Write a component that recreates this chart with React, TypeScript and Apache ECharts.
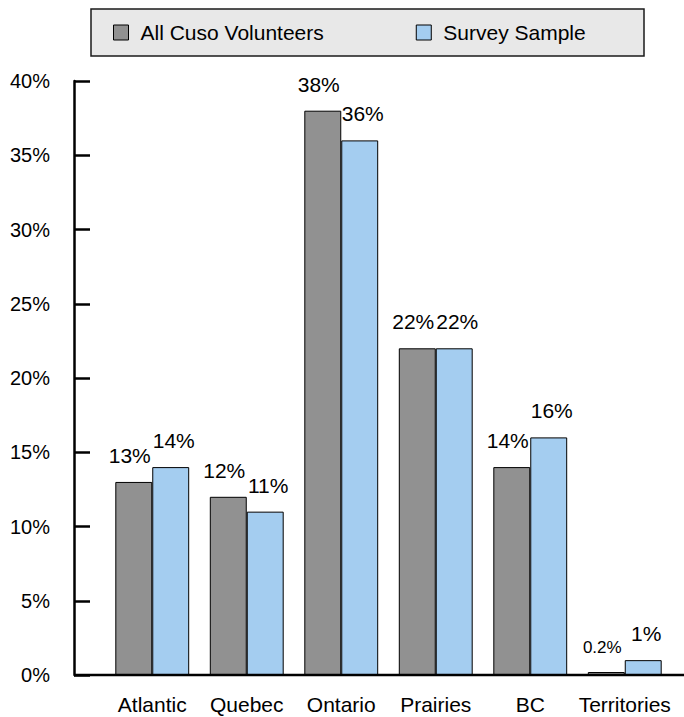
import React, { useEffect, useRef } from "react";
import * as echarts from "echarts";

const categories = ["Atlantic", "Quebec", "Ontario", "Prairies", "BC", "Territories"];
const seriesNames = ["All Cuso Volunteers", "Survey Sample"];
const allCuso = [13, 12, 38, 22, 14, 0.2];
const survey = [14, 11, 36, 22, 16, 1];
const yMin = 0;
const yMax = 40;
const yInterval = 5;

const FONT = "'Liberation Sans', Arial, sans-serif";

function toData(values: number[]) {
  return values.map((v) =>
    v < 1 ? { value: v, label: { fontSize: 17 } } : { value: v }
  );
}

export default function App() {
  const ref = useRef<HTMLDivElement>(null);

  useEffect(() => {
    document.body.style.margin = "0";
    const chart = echarts.init(ref.current!, undefined, { renderer: "svg" });
    const labelBase = {
      show: true,
      position: "top",
      distance: 16,
      fontSize: 21,
      color: "#000",
      fontFamily: FONT,
      formatter: (p: any) => `${p.value}%`,
    };
    chart.setOption({
      animation: false,
      backgroundColor: "#fff",
      textStyle: { fontFamily: FONT },
      graphic: [
        {
          type: "rect",
          z: -1,
          shape: { x: 91, y: 9, width: 553, height: 47 },
          style: { fill: "#e8e8e8", stroke: "#1a1a1a", lineWidth: 1.5 },
        },
        {
          type: "line",
          z: 100,
          shape: { x1: 74, y1: 675, x2: 684, y2: 675 },
          style: { stroke: "#000", lineWidth: 2.5 },
        },
      ],
      legend: {
        left: 108,
        top: 17,
        itemWidth: 15,
        itemHeight: 15,
        itemGap: 92,
        icon: "rect",
        itemStyle: { borderColor: "#000", borderWidth: 1 },
        textStyle: { fontSize: 21, color: "#000", fontFamily: FONT, padding: [0, 0, 0, 7] },
        data: seriesNames,
      },
      grid: { left: 105, right: 12, top: 81, bottom: 42, containLabel: false },
      xAxis: {
        type: "category",
        data: categories,
        axisLine: { show: false },
        axisTick: { show: false },
        axisLabel: { fontSize: 21, color: "#000", margin: 19, interval: 0, fontFamily: FONT },
      },
      yAxis: {
        type: "value",
        min: yMin,
        max: yMax,
        interval: yInterval,
        offset: 31,
        splitLine: { show: false },
        axisLine: { show: true, lineStyle: { color: "#000", width: 2.5 } },
        axisTick: { show: true, inside: true, length: 16, lineStyle: { color: "#000", width: 2.5 } },
        axisLabel: {
          fontSize: 20,
          color: "#000",
          margin: 24,
          fontFamily: FONT,
          formatter: "{value}%",
        },
      },
      series: [
        {
          name: seriesNames[0],
          type: "bar",
          barGap: "0%",
          barCategoryGap: "21.8%",
          itemStyle: { color: "#919191", borderColor: "#000", borderWidth: 1 },
          label: { ...labelBase, offset: [-4, 0] },
          data: toData(allCuso),
        },
        {
          name: seriesNames[1],
          type: "bar",
          barGap: "0%",
          barCategoryGap: "21.8%",
          itemStyle: { color: "#a4cdf0", borderColor: "#000", borderWidth: 1 },
          label: { ...labelBase, offset: [3, 0] },
          data: toData(survey),
        },
      ],
    });
    return () => chart.dispose();
  }, []);

  return <div ref={ref} style={{ width: 684, height: 717 }} />;
}
